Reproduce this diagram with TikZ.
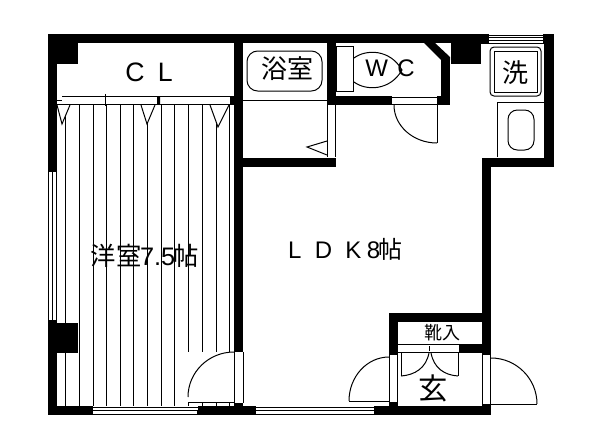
\documentclass[tikz,border=0pt]{standalone}
\usepackage{fontspec}
\setmainfont{Liberation Sans}
\newfontfamily\jp{Noto Sans CJK JP}
\tikzset{
  wall/.style={fill=black,draw=none},
  thin/.style={draw=black,line width=0.75pt},
  floorline/.style={draw=black,line width=0.75pt},
  lbl/.style={inner sep=0pt,outer sep=0pt,font=\jp,text=black},
}
\begin{document}
\begin{tikzpicture}[x=0.75pt,y=-0.75pt]
\useasboundingbox (0,0) rectangle (600,447);
\fill[white] (0,0) rectangle (600,447);
% flooring
\foreach \x in {65,79,93,106,120,133,147,161,174,188,202,216,229}
  \draw[floorline] (\x,104) -- (\x,406);
% closet doors
\draw[thin] (62,96.5) -- (157,96.5) (160,96.5) -- (230,96.5);
\draw[thin] (57,104) -- (234,104);
\draw[thin] (57,100) -- (62,100) (105.5,94) -- (105.5,106);
\foreach \a/\b/\c/\d in {57/62/70/124,141/147/155/124,210/218/229/127}
  \draw[thin,fill=white] (\a,105) -- (\b,\d) -- (\c,105);
\draw[floorline] (65,117) -- (65,135) (147,124) -- (147,135);
\fill[black] (157,96) rectangle (160,104.5) (230,96) rectangle (234,104.5);
% door of the western room
\fill[white] (188,402) rectangle (234,352);
\draw[thin] (188,402) -- (234,402);
\draw[thin] (188,397) arc[start angle=180,end angle=90,x radius=46,y radius=-45];
% walls
\fill[wall] (48,34) rectangle (489,43);
\fill[wall] (48,34) rectangle (57,172);
\fill[wall] (48,34) rectangle (78,64);
\fill[wall] (48,320) rectangle (57,415);
\fill[wall] (57,323) rectangle (78,353);
\fill[wall] (48,406) rectangle (93,415);
\fill[wall] (198,406) rectangle (256,415);
\fill[wall] (374,406) rectangle (491,415);
\fill[wall] (234,43) rectangle (243,352);
\fill[wall] (234,403) rectangle (243,406);
\fill[wall] (243,158) rectangle (336,167);
\fill[wall] (327,43) rectangle (336,103);
\fill[wall] (327,96) rectangle (392,105);
\fill[wall] (437,96) rectangle (450,105);
\fill[wall] (441,58) rectangle (450,105);
\fill[wall] (424,43) -- (435,43) -- (450,57) -- (450,60) -- (441,60) -- cycle;
\fill[wall] (451,43) rectangle (481,64);
\fill[wall] (544,34) rectangle (554,167);
\fill[wall] (482,158) rectangle (554,167);
\fill[wall] (482,158) rectangle (491,355);
\fill[wall] (482,404) rectangle (491,415);
\fill[wall] (389,313) rectangle (491,322);
\fill[wall] (389,313) rectangle (398,355);
\fill[wall] (389,402) rectangle (398,406);
\fill[wall] (459,344) rectangle (491,353);
% window frames
\draw[thin] (48.5,172) -- (48.5,320) (52.5,172) -- (52.5,320) (56.5,172) -- (56.5,320);
\draw[thin] (93,407) -- (198,407) (93,410.5) -- (198,410.5) (93,414.5) -- (198,414.5) (197,410) -- (197,415);
\draw[thin] (256,407) -- (374,407) (256,410.5) -- (374,410.5) (256,414.5) -- (374,414.5);
\draw[thin] (489,35) -- (543,35) (489,37.5) -- (543,37.5) (489,40) -- (543,40) (481,43) -- (544,43) (543,34) -- (543,43);
% door boxes
\draw[thin] (234,352) -- (234,403) (243,352) -- (243,403);
\draw[thin] (327.5,103) -- (327.5,157) (335.5,103) -- (335.5,157);
\draw[thin] (392,97) -- (437,97) (392,104) -- (437,104);
\draw[thin] (389.5,355) -- (389.5,402) (397.5,355) -- (397.5,402);
\draw[thin] (482.5,355) -- (482.5,404) (490.5,355) -- (490.5,404);
\draw[thin] (398,344.5) -- (459,344.5) (398,352.5) -- (459,352.5);
% bath
\draw[thin] (243,100) -- (327,100);
\draw[thin,rounded corners=8pt] (247,51) rectangle (322,91);
\draw[thin] (327,141) -- (307,147) -- (327,155);
% WC
\draw[thin] (336,46) rectangle (353.5,91);
\draw[thin] (354,58) .. controls (366,49) and (390,49) .. (402,70) .. controls (390,91) and (366,91) .. (354,82);
% WC door
\draw[thin] (437,104) -- (437,143);
\draw[thin] (394,105) arc[start angle=180,end angle=270,x radius=43,y radius=-38];
% washing and basin
\draw[thin,rounded corners=3pt] (490,47) rectangle (541,96);
\draw[thin] (494,51) rectangle (537,92);
\draw[thin] (544,102) -- (497,102) -- (497,157);
\draw[thin,rounded corners=7pt] (508,110) rectangle (534,150);
% entrance doors
\draw[thin] (389,401) -- (349,401);
\draw[thin] (349,401) arc[start angle=180,end angle=90,x radius=40,y radius=-44];
\draw[thin] (491,404) -- (537,404);
\draw[thin] (537,404) arc[start angle=0,end angle=90,x radius=46,y radius=-46];
\draw[thin] (401,353) -- (401,376) (458,353) -- (458,376);
\draw[thin] (401,376) .. controls (415,375) and (426,368) .. (429,353);
\draw[thin] (458,376) .. controls (444,375) and (434,368) .. (431,353);
\draw[thin] (429.5,346) -- (429.5,351);
% labels
\node[lbl,font=\fontsize{19.5pt}{19.5pt}\jp] (bath) at (287,69) {浴室};
\node[lbl,font=\fontsize{19.5pt}{19.5pt}\jp] (wash) at (515,73) {洗};
\node[lbl,font=\fontsize{22pt}{22pt}\jp] (gen) at (433,388) {玄};
\node[lbl,font=\fontsize{13.5pt}{13.5pt}\jp] (shoe) at (442,333) {靴入};
\node[lbl,font=\fontsize{20pt}{20pt}\rmfamily] (cl) at (149,72.5) {C\hspace{10pt}L};
\node[lbl,font=\fontsize{18pt}{18pt}\rmfamily] (wc) at (390,68.5) {W\hspace{7pt}C};
\node[lbl,font=\fontsize{18pt}{18pt}\rmfamily] (ldk) at (345.5,249) {L\hspace{10pt}D\hspace{10pt}K\hspace{4pt}8\hspace{-1pt}\jp 帖};
\node[lbl,font=\fontsize{19pt}{19pt}\jp] (west) at (145,256) {洋室\rmfamily\hspace{-1pt}7.5\jp\hspace{-1pt}帖};
\end{tikzpicture}
\end{document}
